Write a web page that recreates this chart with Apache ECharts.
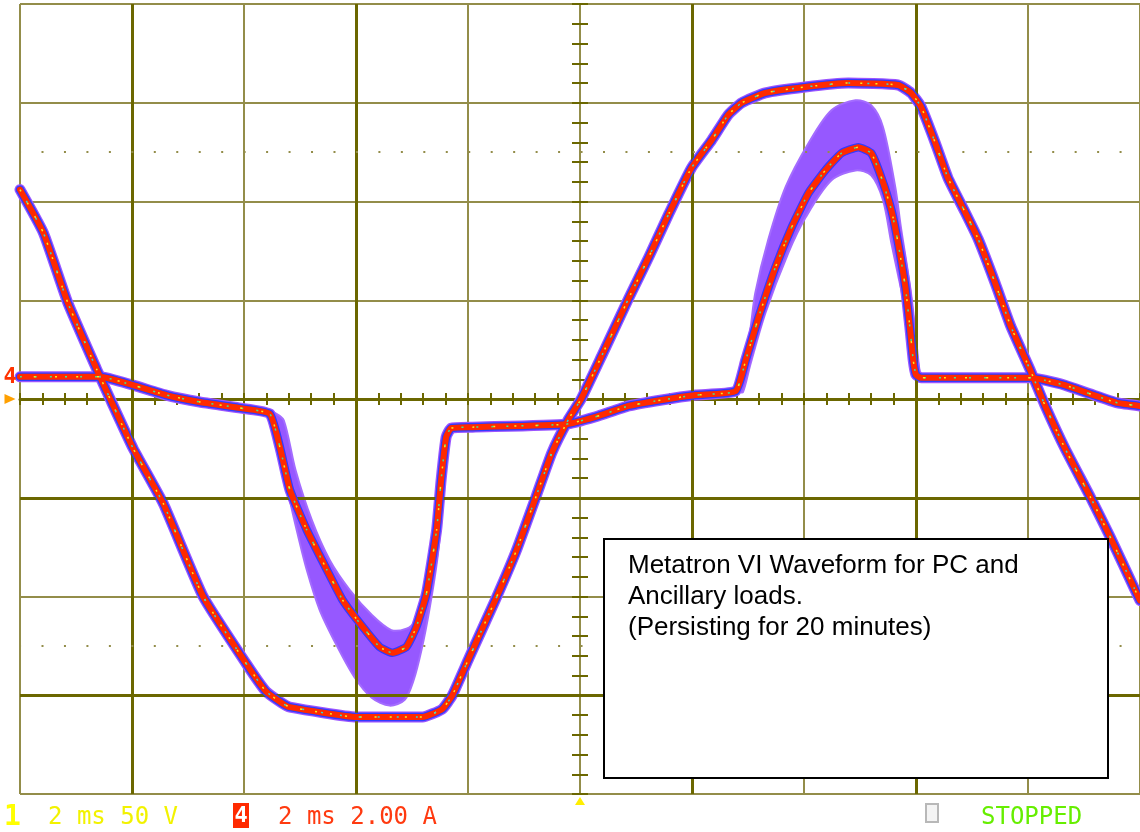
<!DOCTYPE html>
<html><head><meta charset="utf-8">
<script src="https://cdn.jsdelivr.net/npm/echarts@6.0.0/dist/echarts.min.js"></script>
<style>html,body{margin:0;padding:0;background:#fff}#c{width:1140px;height:832px}</style>
</head><body><div id="c"></div>
<script>
// Channel 1: voltage (V) vs time (ms)
const voltT = [-10.0,-9.58,-9.15,-8.63,-8.39,-7.98,-7.44,-6.73,-5.96,-5.61,-5.32,-5.18,-3.99,-2.81,-2.46,-2.28,-1.98,-1.50,-1.14,-0.78,-0.50,-0.20,0.02,0.39,0.87,1.23,1.59,1.99,2.35,2.65,2.89,3.31,4.02,4.79,5.68,5.91,6.09,6.34,6.57,6.87,7.11,7.41,7.69,8.05,8.30,8.66,9.12,9.47,9.90,10.0];
const voltV = [106,84,49,15,0,-25,-53,-100,-134,-148,-154,-156,-161,-161,-157,-150,-131,-101,-77,-49,-27,-10,0,22,51,72,94,117,131,144,150,155,158,160,159,155,148,130,112,95,81,59,37,14,-3,-25,-50,-70,-96,-102];
// Channel 4: current (A) vs time (ms)
const currT = [-10,-8.57,-7.98,-7.39,-6.79,-6.09,-5.54,-5.36,-5.18,-4.88,-4.52,-4.24,-3.94,-3.58,-3.35,-3.10,-2.92,-2.74,-2.56,-2.48,-2.39,-2.30,-1.92,-0.25,0.28,0.87,1.46,2.07,2.78,2.96,3.19,3.49,3.78,4.08,4.38,4.67,4.97,5.20,5.38,5.56,5.68,5.81,5.89,5.95,6.00,6.09,8.05,8.30,8.66,9.12,9.60,10];
const currA = [0.45,0.45,0.28,0.08,-0.06,-0.18,-0.30,-0.97,-1.84,-2.65,-3.46,-4.07,-4.53,-5.02,-5.14,-5.02,-4.61,-3.93,-2.65,-1.64,-0.77,-0.59,-0.57,-0.51,-0.36,-0.14,-0.02,0.08,0.16,0.79,1.66,2.67,3.48,4.17,4.63,4.98,5.10,4.98,4.49,3.83,3.16,2.27,1.46,0.79,0.49,0.43,0.43,0.38,0.28,0.10,-0.08,-0.14];
// Persistence envelope of the current (negative pulse)
const dipBandT = [-5.61,-5.33,-5.22,-5.06,-4.88,-4.65,-4.35,-4.03,-3.72,-3.40,-3.13,-2.97,-2.83,-2.69,-2.55,-2.44,-2.35,-2.26,-2.42,-2.50,-2.60,-2.78,-2.94,-3.10,-3.37,-3.72,-4.11,-4.47,-4.79,-5.08,-5.29,-5.45];
const dipBandA = [-0.22,-1.03,-1.84,-2.65,-3.46,-4.27,-4.98,-5.63,-6.05,-6.21,-6.09,-5.69,-5.08,-4.27,-3.26,-2.04,-0.83,-0.53,-0.7,-1.6,-3.0,-4.1,-4.5,-4.65,-4.68,-4.37,-3.87,-3.26,-2.45,-1.44,-0.43,-0.28];
// Persistence envelope of the current (positive pulse)
const peakBandT = [2.84,3.04,3.13,3.36,3.67,4.08,4.49,4.92,5.20,5.41,5.63,5.73,5.91,6.04,6.07,5.89,5.81,5.68,5.56,5.41,5.20,4.92,4.49,4.03,3.72,3.31,3.04,2.91];
const peakBandA = [0.16,1.40,2.15,3.22,4.29,5.18,5.85,6.05,5.95,5.51,4.29,3.48,2.15,0.79,0.43,1.19,1.80,2.51,3.16,4.03,4.53,4.63,4.43,3.68,2.96,1.74,0.69,0.14];

const statusCh1 = '2 ms 50 V';
const statusCh4 = '2 ms 2.00 A';
const statusRun = 'STOPPED';
const noteLines = ['Metatron VI Waveform for PC and', 'Ancillary loads.', '(Persisting for 20 minutes)'];

const OLIVE = '#938d4a', OLIVE_D = '#6b6700';
const PURPLE = '#9b55ff', BLUE = '#2f3cff', RED = '#ff2a00';

const vData = voltT.map((t, i) => [t, voltV[i]]);
const cData = currT.map((t, i) => [t, currA[i]]);

function layer(name, data, yIdx, color, width, z, extra) {
  return Object.assign({
    name, type: 'line', data, xAxisIndex: 0, yAxisIndex: yIdx, showSymbol: false, symbol: 'none',
    smooth: 0.15,
    lineStyle: { color, width, cap: 'round', join: 'round' }, z, silent: true, animation: false
  }, extra || {});
}
function band(ts, vs, z) {
  return {
    type: 'custom', xAxisIndex: 0, yAxisIndex: 1, z, silent: true, clip: true,
    data: [[ts[0], vs[0]]],
    renderItem: function (params, api) {
      if (params.dataIndex !== 0) return null;
      const pts = ts.map((t, i) => api.coord([t, vs[i]]));
      return { type: 'polygon', shape: { points: pts, smooth: 0.3 }, style: { fill: '#9658ff', stroke: '#a46cff', lineWidth: 2 } };
    }
  };
}

const axisBase = { type: 'value', axisLabel: { show: false }, axisPointer: { show: false } };
const tickStyle = { color: OLIVE_D, width: 2 };

const option = {
  animation: false,
  backgroundColor: '#ffffff',
  grid: { left: 20, top: 4, width: 1123, height: 790, containLabel: false },
  xAxis: [
    Object.assign({}, axisBase, { min: -10, max: 10, interval: 2, position: 'bottom',
      axisLine: { show: true, onZero: true, lineStyle: { color: OLIVE_D, width: 3 } },
      axisTick: { show: true, inside: false, length: 6, lineStyle: tickStyle },
      minorTick: { show: true, splitNumber: 5, length: 6, lineStyle: tickStyle },
      splitLine: { show: true, lineStyle: { color: OLIVE, width: 2 } } }),
    Object.assign({}, axisBase, { min: -10, max: 10, interval: 2, position: 'top',
      axisLine: { show: false, onZero: true, onZeroAxisIndex: 0 },
      axisTick: { show: true, inside: false, length: 6, lineStyle: tickStyle },
      minorTick: { show: true, splitNumber: 5, length: 6, lineStyle: tickStyle },
      splitLine: { show: false } })
  ],
  yAxis: [
    Object.assign({}, axisBase, { min: -200, max: 200, interval: 50, position: 'left',
      axisLine: { show: true, onZero: true, lineStyle: { color: OLIVE, width: 2 } },
      axisTick: { show: true, inside: false, length: 8, lineStyle: tickStyle },
      minorTick: { show: true, splitNumber: 5, length: 8, lineStyle: tickStyle },
      splitLine: { show: true, lineStyle: { color: OLIVE, width: 2 } } }),
    Object.assign({}, axisBase, { min: -8, max: 8, interval: 2, position: 'right',
      axisLine: { show: false, onZero: true, onZeroAxisIndex: 0 },
      axisTick: { show: true, inside: false, length: 8, lineStyle: tickStyle },
      minorTick: { show: true, splitNumber: 5, length: 8, lineStyle: tickStyle },
      splitLine: { show: false } })
  ],
  series: [
    {
      type: 'line', data: [], xAxisIndex: 0, yAxisIndex: 0, z: 1, silent: true,
      markLine: {
        silent: true, symbol: ['none', 'none'], label: { show: false }, animation: false,
        emphasis: { disabled: true },
        data: [
          { xAxis: -8, lineStyle: { color: OLIVE_D, width: 3, type: 'solid' } },
          { xAxis: -4, lineStyle: { color: OLIVE_D, width: 3, type: 'solid' } },
          { xAxis: 2, lineStyle: { color: OLIVE_D, width: 3, type: 'solid' } },
          { xAxis: 6, lineStyle: { color: OLIVE_D, width: 3, type: 'solid' } },
          { yAxis: -50, lineStyle: { color: OLIVE_D, width: 3, type: 'solid' } },
          { yAxis: -150, lineStyle: { color: OLIVE_D, width: 3, type: 'solid' } },
          { yAxis: 125, lineStyle: { color: OLIVE, width: 2, type: [2, 20.46], dashOffset: 0.96 } },
          { yAxis: -125, lineStyle: { color: OLIVE, width: 2, type: [2, 20.46], dashOffset: 0.96 } }
        ]
      },
      markPoint: {
        silent: true, animation: false,
        data: [
          { coord: [-10, 0], symbol: 'triangle', symbolSize: [10, 11], symbolRotate: -90, symbolOffset: [-10, 0],
            itemStyle: { color: '#ffa000' }, label: { show: false } },
          { coord: [0, -200], symbol: 'triangle', symbolSize: [10, 8], symbolOffset: [0, 7],
            itemStyle: { color: '#ffee00' }, label: { show: false } }
        ]
      }
    },
    band(dipBandT, dipBandA, 3),
    band(peakBandT, peakBandA, 3),
    layer('v-purple', vData, 0, PURPLE, 11, 4),
    layer('v-blue', vData, 0, BLUE, 8.5, 5),
    layer('v-red', vData, 0, RED, 6, 6),
    layer('v-speck', vData, 0, '#ffe600', 1.5, 7, { lineStyle: { color: '#f4ee20', width: 1.5, type: [2, 13] } }),
    layer('v-speck2', vData, 0, '#30e0c0', 1.5, 7, { lineStyle: { color: '#30d8d0', width: 1.5, type: [2, 17], dashOffset: 6 } }),
    layer('i-purple', cData, 1, PURPLE, 11, 4),
    layer('i-blue', cData, 1, BLUE, 8.5, 5),
    layer('i-red', cData, 1, RED, 6, 6, {
      markPoint: {
        silent: true, animation: false,
        data: [{ coord: [-10, 0.45], symbol: 'rect', symbolSize: 1, symbolOffset: [-10, 0],
          itemStyle: { color: 'rgba(0,0,0,0)' },
          label: { show: true, formatter: '4', color: '#ff3300', fontSize: 22, fontWeight: 'bold',
            fontFamily: 'DejaVu Sans Mono', position: 'inside' } }]
      }
    }),
    layer('i-speck', cData, 1, '#30e8a0', 1.5, 7, { lineStyle: { color: '#40e890', width: 1.5, type: [2, 13] } }),
    layer('i-speck2', cData, 1, '#f4ee20', 1.5, 7, { lineStyle: { color: '#f4ee20', width: 1.5, type: [2, 19], dashOffset: 7 } })
  ],
  graphic: [
    { type: 'rect', z: 100, shape: { x: 604, y: 539, width: 504, height: 239 },
      style: { fill: '#ffffff', stroke: '#000000', lineWidth: 2 } },
    { type: 'text', z: 101, x: 628, y: 550,
      style: { text: noteLines.join('\n'), font: '26px "Liberation Sans", Arial, sans-serif', lineHeight: 31, fill: '#000000', verticalAlign: 'top' } },
    { type: 'text', z: 101, x: 4, y: 818,
      style: { text: '1', font: 'bold 28px "DejaVu Sans Mono", monospace', fill: '#ffff00', verticalAlign: 'middle' } },
    { type: 'text', z: 101, x: 48, y: 818,
      style: { text: statusCh1, font: '24px "DejaVu Sans Mono", monospace', fill: '#f2f200', verticalAlign: 'middle' } },
    { type: 'rect', z: 100, shape: { x: 233, y: 803, width: 16, height: 25 }, style: { fill: '#ff2a00' } },
    { type: 'text', z: 101, x: 241, y: 816,
      style: { text: '4', font: 'bold 22px "DejaVu Sans Mono", monospace', fill: '#ffffff', align: 'center', verticalAlign: 'middle' } },
    { type: 'text', z: 101, x: 278, y: 818,
      style: { text: statusCh4, font: '24px "DejaVu Sans Mono", monospace', fill: '#ff3a10', verticalAlign: 'middle' } },
    { type: 'rect', z: 100, shape: { x: 926, y: 804, width: 12, height: 18 },
      style: { fill: '#f4f4f4', stroke: '#b8b8b8', lineWidth: 2 } },
    { type: 'text', z: 101, x: 981, y: 818,
      style: { text: statusRun, font: '24px "DejaVu Sans Mono", monospace', fill: '#66ee00', verticalAlign: 'middle' } }
  ]
};
const chart = echarts.init(document.getElementById('c'), null, { renderer: 'canvas' });
chart.setOption(option);
</script>
</body></html>
